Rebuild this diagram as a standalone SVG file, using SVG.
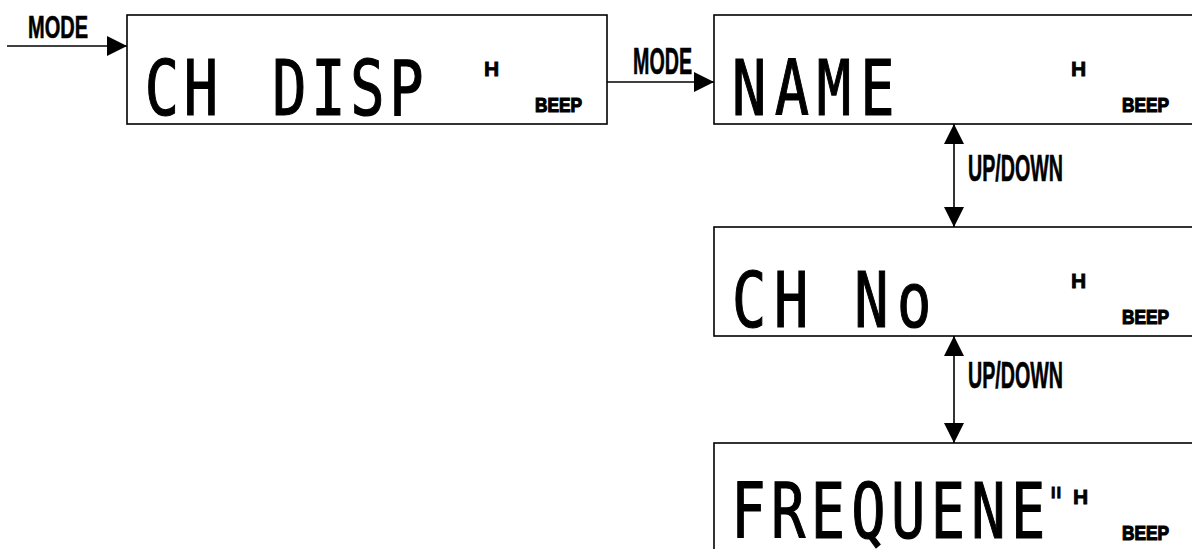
<svg xmlns="http://www.w3.org/2000/svg" width="1192" height="549" viewBox="0 0 1192 549">
<style>
.box{fill:#fff;stroke:#000;stroke-width:1.6}
.con{stroke:#000;stroke-width:1.6;fill:none}
.lcd{font-family:"DejaVu Sans Mono","Liberation Mono",monospace;font-size:76px;fill:#000;stroke:#000;stroke-width:1.2}
.lcdq{font-family:"DejaVu Sans Mono","Liberation Mono",monospace;font-size:40px;fill:#000;stroke:#000;stroke-width:0.8}
.lbl{font-family:"Liberation Sans",Arial,sans-serif;font-weight:bold;fill:#000;stroke:#000;stroke-width:0.6}
.h{font-family:"Liberation Sans",Arial,sans-serif;font-weight:bold;font-size:21px;fill:#000;stroke:#000;stroke-width:0.8}
.beep{font-family:"Liberation Sans",Arial,sans-serif;font-weight:bold;font-size:20px;fill:#000;stroke:#000;stroke-width:1.2}
</style>
<defs>
<marker id="ah" viewBox="0 0 20 20" refX="20" refY="10" markerWidth="20" markerHeight="20" markerUnits="userSpaceOnUse" orient="auto-start-reverse">
<path d="M0,0 L20,10 L0,20 Z" fill="#000"/>
</marker>
</defs>
<rect width="1192" height="549" fill="#fff"/>

<g id="connectors">
<line class="con" x1="7" y1="46" x2="127" y2="46" marker-end="url(#ah)"/>
<text class="lbl" x="28" y="38" font-size="32" textLength="60" lengthAdjust="spacingAndGlyphs">MODE</text>
<line class="con" x1="607" y1="82" x2="714" y2="82" marker-end="url(#ah)"/>
<text class="lbl" x="633" y="74" font-size="36" textLength="59" lengthAdjust="spacingAndGlyphs">MODE</text>
<line class="con" x1="954" y1="124" x2="954" y2="227" marker-start="url(#ah)" marker-end="url(#ah)"/>
<text class="lbl" x="968" y="181" font-size="37" textLength="95" lengthAdjust="spacingAndGlyphs">UP/DOWN</text>
<line class="con" x1="954" y1="336" x2="954" y2="443" marker-start="url(#ah)" marker-end="url(#ah)"/>
<text class="lbl" x="968" y="388" font-size="37" textLength="95" lengthAdjust="spacingAndGlyphs">UP/DOWN</text>
</g>

<g id="ch-disp">
<rect class="box" x="127" y="15" width="480" height="109"/>
<g transform="scale(0.75,1)"><text class="lcd" y="115" x="193 245 300 363 415 467 519">CH DISP</text></g>
<text class="h" x="484" y="76">H</text>
<text class="beep" x="535" y="112" textLength="47" lengthAdjust="spacingAndGlyphs">BEEP</text>
</g>

<g id="name">
<rect class="box" x="714" y="15" width="490" height="109"/>
<g transform="scale(0.75,1)"><text class="lcd" y="115" x="976 1033 1089 1147">NAME</text></g>
<text class="h" x="1071" y="76">H</text>
<text class="beep" x="1122" y="112" textLength="47" lengthAdjust="spacingAndGlyphs">BEEP</text>
</g>

<g id="ch-no">
<rect class="box" x="714" y="227" width="490" height="109"/>
<g transform="scale(0.75,1)"><text class="lcd" y="327" x="976 1032 1085 1139 1196">CH No</text></g>
<text class="h" x="1071" y="288">H</text>
<text class="beep" x="1122" y="324" textLength="47" lengthAdjust="spacingAndGlyphs">BEEP</text>
</g>

<g id="frequene">
<rect class="box" x="714" y="443" width="490" height="120"/>
<g transform="scale(0.75,1)"><text class="lcd" y="538" x="975 1028 1081 1135 1188 1241 1295 1348">FREQUENE</text><text class="lcdq" y="517" x="1396">"</text></g>
<text class="h" x="1073" y="504">H</text>
<text class="beep" x="1122" y="540" textLength="47" lengthAdjust="spacingAndGlyphs">BEEP</text>
</g>
</svg>
